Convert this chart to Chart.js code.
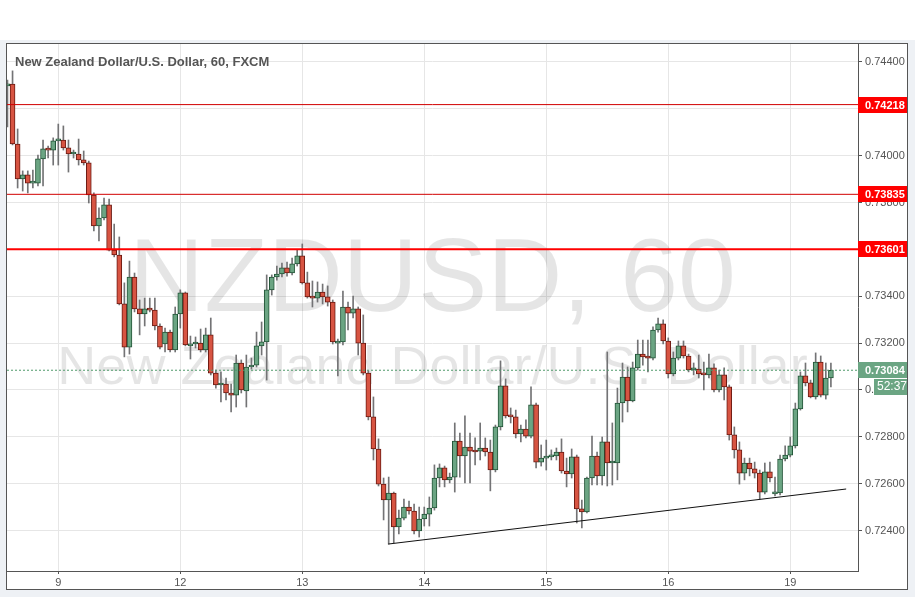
<!DOCTYPE html>
<html>
<head>
<meta charset="utf-8">
<title>NZDUSD 60</title>
<script src="https://cdn.jsdelivr.net/npm/chart.js@4.4.0/dist/chart.umd.min.js"></script>
<style>
  html, body { margin: 0; padding: 0; background: #fff; }
  #wrap { width: 915px; height: 597px; }
</style>
</head>
<body>
<div id="wrap"><canvas id="chart" width="915" height="597"></canvas></div>
<script>
// ===== DATA =====
// hourly candles, hour 0 = start of day "9"
const FIRST_HOUR = -10;

const opens = [
  0.74298, 0.74306, 0.74050, 0.73901, 0.73918, 0.73883, 0.73883, 0.73986, 0.74029, 0.74024,
  0.74063, 0.74067, 0.74033, 0.74007, 0.74007, 0.73982, 0.73969, 0.73832, 0.73700, 0.73734,
  0.73790, 0.73597, 0.73576, 0.73367, 0.73183, 0.73482, 0.73346, 0.73324, 0.73346, 0.73341,
  0.73273, 0.73196, 0.73247, 0.73171, 0.73324, 0.73414, 0.73188, 0.73196, 0.73200, 0.73171,
  0.73235, 0.73072, 0.73021, 0.73025, 0.72987, 0.72978, 0.73115, 0.72996, 0.73098, 0.73106,
  0.73188, 0.73205, 0.73427, 0.73482, 0.73495, 0.73521, 0.73499, 0.73538, 0.73572, 0.73457,
  0.73397, 0.73392, 0.73418, 0.73397, 0.73375, 0.73200, 0.73205, 0.73354, 0.73328, 0.73346,
  0.73200, 0.73072, 0.72885, 0.72748, 0.72598, 0.72530, 0.72560, 0.72415, 0.72453, 0.72500,
  0.72483, 0.72398, 0.72449, 0.72470, 0.72496, 0.72624, 0.72667, 0.72616, 0.72628, 0.72782,
  0.72718, 0.72756, 0.72739, 0.72739, 0.72752, 0.72735, 0.72658, 0.72842, 0.73017, 0.72889,
  0.72885, 0.72812, 0.72833, 0.72803, 0.72936, 0.72692, 0.72709, 0.72714, 0.72718, 0.72735,
  0.72654, 0.72641, 0.72714, 0.72492, 0.72479, 0.72624, 0.72718, 0.72633, 0.72778, 0.72688,
  0.72688, 0.72944, 0.73055, 0.72953, 0.73094, 0.73153, 0.73145, 0.73136, 0.73256, 0.73282,
  0.73209, 0.73068, 0.73136, 0.73188, 0.73145, 0.73085, 0.73089, 0.73068, 0.73064, 0.73094,
  0.73000, 0.73064, 0.73013, 0.72808, 0.72744, 0.72645, 0.72688, 0.72663, 0.72645, 0.72564,
  0.72650, 0.72556, 0.72560, 0.72705, 0.72722, 0.72761, 0.72919, 0.73060, 0.73030, 0.72970,
  0.73119, 0.72978, 0.73051
];
const highs = [
  0.74323, 0.74362, 0.74114, 0.73935, 0.73935, 0.73939, 0.74003, 0.74067, 0.74041, 0.74076,
  0.74135, 0.74127, 0.74067, 0.74024, 0.74071, 0.74020, 0.73977, 0.73841, 0.73777, 0.73819,
  0.73815, 0.73708, 0.73653, 0.73457, 0.73550, 0.73499, 0.73384, 0.73392, 0.73392, 0.73392,
  0.73282, 0.73264, 0.73256, 0.73354, 0.73427, 0.73418, 0.73230, 0.73226, 0.73260, 0.73264,
  0.73307, 0.73085, 0.73077, 0.73051, 0.73025, 0.73149, 0.73128, 0.73149, 0.73136, 0.73247,
  0.73290, 0.73491, 0.73491, 0.73529, 0.73542, 0.73546, 0.73563, 0.73597, 0.73623, 0.73503,
  0.73465, 0.73461, 0.73452, 0.73444, 0.73384, 0.73217, 0.73422, 0.73375, 0.73401, 0.73354,
  0.73320, 0.73081, 0.72970, 0.72791, 0.72624, 0.72628, 0.72564, 0.72487, 0.72534, 0.72526,
  0.72513, 0.72500, 0.72500, 0.72543, 0.72680, 0.72684, 0.72675, 0.72645, 0.72859, 0.72816,
  0.72889, 0.72816, 0.72795, 0.72859, 0.72795, 0.72786, 0.72850, 0.73124, 0.73047, 0.72923,
  0.72914, 0.72850, 0.72872, 0.73013, 0.72944, 0.72765, 0.72786, 0.72744, 0.72752, 0.72791,
  0.72709, 0.72748, 0.72722, 0.72530, 0.72628, 0.72803, 0.72735, 0.72799, 0.73162, 0.72859,
  0.73008, 0.73115, 0.73098, 0.73119, 0.73213, 0.73213, 0.73213, 0.73269, 0.73307, 0.73299,
  0.73222, 0.73162, 0.73209, 0.73209, 0.73153, 0.73115, 0.73149, 0.73119, 0.73153, 0.73111,
  0.73085, 0.73094, 0.73021, 0.72842, 0.72778, 0.72709, 0.72709, 0.72692, 0.72658, 0.72688,
  0.72692, 0.72628, 0.72722, 0.72761, 0.72799, 0.72944, 0.73077, 0.73115, 0.73042, 0.73158,
  0.73145, 0.73115, 0.73115
];
const lows = [
  0.74123, 0.74046, 0.73862, 0.73849, 0.73841, 0.73862, 0.73871, 0.73871, 0.73990, 0.73960,
  0.73960, 0.74024, 0.73930, 0.73990, 0.73960, 0.73960, 0.73798, 0.73679, 0.73636, 0.73726,
  0.73593, 0.73568, 0.73363, 0.73141, 0.73153, 0.73333, 0.73235, 0.73273, 0.73333, 0.73256,
  0.73175, 0.73162, 0.73162, 0.73162, 0.73264, 0.73188, 0.73132, 0.73179, 0.73162, 0.73162,
  0.73064, 0.73008, 0.72949, 0.72957, 0.72906, 0.72927, 0.72987, 0.72927, 0.73089, 0.73098,
  0.73149, 0.73042, 0.73405, 0.73469, 0.73482, 0.73486, 0.73491, 0.73529, 0.73452, 0.73392,
  0.73354, 0.73375, 0.73367, 0.73358, 0.73196, 0.73060, 0.73192, 0.73256, 0.73307, 0.73149,
  0.73064, 0.72872, 0.72701, 0.72590, 0.72445, 0.72342, 0.72347, 0.72385, 0.72445, 0.72470,
  0.72385, 0.72372, 0.72419, 0.72419, 0.72487, 0.72586, 0.72586, 0.72603, 0.72564, 0.72628,
  0.72603, 0.72603, 0.72680, 0.72701, 0.72718, 0.72569, 0.72650, 0.72829, 0.72880, 0.72859,
  0.72795, 0.72778, 0.72795, 0.72795, 0.72667, 0.72675, 0.72658, 0.72701, 0.72701, 0.72645,
  0.72586, 0.72624, 0.72432, 0.72411, 0.72475, 0.72594, 0.72594, 0.72594, 0.72590, 0.72594,
  0.72616, 0.72863, 0.72906, 0.72949, 0.73085, 0.73106, 0.73077, 0.73128, 0.73247, 0.73196,
  0.73051, 0.73060, 0.73128, 0.73136, 0.73077, 0.73064, 0.73051, 0.73000, 0.73051, 0.72991,
  0.72991, 0.72957, 0.72786, 0.72709, 0.72598, 0.72616, 0.72633, 0.72624, 0.72534, 0.72556,
  0.72607, 0.72547, 0.72552, 0.72697, 0.72714, 0.72752, 0.72914, 0.73017, 0.72966, 0.72961,
  0.72970, 0.72961, 0.73013
];
const closes = [
  0.74306, 0.74050, 0.73901, 0.73918, 0.73883, 0.73888, 0.73986, 0.74029, 0.74024, 0.74063,
  0.74067, 0.74033, 0.74007, 0.74007, 0.73982, 0.73969, 0.73832, 0.73700, 0.73734, 0.73790,
  0.73597, 0.73576, 0.73367, 0.73183, 0.73482, 0.73346, 0.73324, 0.73346, 0.73341, 0.73273,
  0.73183, 0.73247, 0.73171, 0.73324, 0.73414, 0.73192, 0.73196, 0.73200, 0.73171, 0.73235,
  0.73072, 0.73021, 0.73025, 0.72987, 0.72978, 0.73115, 0.73000, 0.73098, 0.73106, 0.73188,
  0.73205, 0.73427, 0.73482, 0.73495, 0.73521, 0.73499, 0.73538, 0.73572, 0.73457, 0.73397,
  0.73392, 0.73418, 0.73397, 0.73375, 0.73205, 0.73205, 0.73354, 0.73328, 0.73346, 0.73200,
  0.73072, 0.72885, 0.72748, 0.72598, 0.72530, 0.72560, 0.72415, 0.72453, 0.72500, 0.72483,
  0.72398, 0.72449, 0.72470, 0.72496, 0.72624, 0.72667, 0.72616, 0.72628, 0.72782, 0.72718,
  0.72756, 0.72739, 0.72735, 0.72752, 0.72735, 0.72658, 0.72842, 0.73017, 0.72889, 0.72885,
  0.72812, 0.72833, 0.72803, 0.72936, 0.72692, 0.72709, 0.72714, 0.72722, 0.72735, 0.72654,
  0.72641, 0.72714, 0.72492, 0.72479, 0.72624, 0.72718, 0.72633, 0.72778, 0.72688, 0.72692,
  0.72944, 0.73055, 0.72953, 0.73094, 0.73153, 0.73141, 0.73136, 0.73256, 0.73282, 0.73209,
  0.73068, 0.73136, 0.73188, 0.73145, 0.73085, 0.73094, 0.73068, 0.73064, 0.73094, 0.73000,
  0.73064, 0.73013, 0.72808, 0.72744, 0.72645, 0.72688, 0.72663, 0.72645, 0.72564, 0.72650,
  0.72624, 0.72564, 0.72705, 0.72722, 0.72761, 0.72919, 0.73060, 0.73030, 0.72970, 0.73119,
  0.72978, 0.73051, 0.73084
];

// time axis: day labels at hour offsets
const dayHours  = [0, 24, 48, 72, 96, 120, 144];
const dayLabels = ['9', '12', '13', '14', '15', '16', '19'];

// price axis ticks
const priceTicks = [0.724, 0.726, 0.728, 0.730, 0.732, 0.734, 0.736, 0.738, 0.740, 0.742, 0.744];

// horizontal levels drawn on the chart
const levelPrices = [0.74218, 0.73835, 0.73601];
const levelWidths = [1, 1, 2];
const lastPrice = 0.73084;
const countdown = '52:37';

// support trend line (hour, price)
const trendHours  = [64.9, 155.0];
const trendPrices = [0.72342, 0.72577];

// visible range
const X_MIN = -10.09, X_MAX = 157.33;
const Y_MIN = 0.72227, Y_MAX = 0.74481;

// ===== STYLE =====
const UP_FILL = '#6ba583', UP_LINE = '#225437';
const DN_FILL = '#d75442', DN_LINE = '#6b1a12';
const WICK = '#737375';
const AXIS = '#555555';
const GRID = '#e6e6e6';

Chart.defaults.font = { family: "'Liberation Sans', Arial, sans-serif", size: 11 };
Chart.defaults.color = AXIS;

const isUp = i => closes[i] >= opens[i];

// ===== PLUGINS =====
const framePlugin = {
  id: 'frame',
  beforeDraw(chart) {
    const { ctx, width, height } = chart;
    ctx.save();
    ctx.fillStyle = '#eef1f5';
    ctx.fillRect(0, 0, width, height);
    ctx.fillStyle = '#ffffff';
    ctx.fillRect(0, 0, width, 40);
    ctx.fillRect(6, 43, 902, 547);
    ctx.restore();
  },
  beforeDatasetsDraw(chart) {
    // symbol watermark
    const { ctx, chartArea } = chart;
    const cx = (chartArea.left + chartArea.right) / 2;
    ctx.save();
    ctx.fillStyle = 'rgba(0,0,0,0.1)';
    ctx.textAlign = 'center';
    ctx.textBaseline = 'alphabetic';
    ctx.font = "104px 'Liberation Sans', Arial, sans-serif";
    ctx.fillText('NZDUSD, 60', cx, 311);
    ctx.font = "54px 'Liberation Sans', Arial, sans-serif";
    ctx.fillText('New Zealand Dollar/U.S. Dollar', cx, 384);
    ctx.restore();
  },
  afterDraw(chart) {
    const { ctx } = chart;
    const y = chart.scales.y;
    ctx.save();

    // title
    ctx.fillStyle = '#555555';
    ctx.font = "bold 13px 'Liberation Sans', Arial, sans-serif";
    ctx.textAlign = 'left';
    ctx.textBaseline = 'alphabetic';
    ctx.fillText('New Zealand Dollar/U.S. Dollar, 60, FXCM', 15, 66);

    // price tags on the axis
    ctx.font = "bold 11px 'Liberation Sans', Arial, sans-serif";
    ctx.textBaseline = 'middle';
    const tag = (price, color) => {
      const py = Math.round(y.getPixelForValue(price));
      ctx.fillStyle = color;
      ctx.fillRect(858, py - 8, 49, 16);
      ctx.fillStyle = '#ffffff';
      ctx.fillText(price.toFixed(5), 865, py + 1);
      return py;
    };
    levelPrices.forEach(p => tag(p, '#ff0000'));
    const ly = tag(lastPrice, '#6ba583');

    ctx.fillStyle = '#6ba583';
    ctx.fillRect(874, ly + 9, 33, 16);
    ctx.fillStyle = '#ffffff';
    ctx.font = "12px 'Liberation Sans', Arial, sans-serif";
    ctx.fillText(countdown, 877, ly + 17);

    // panel frame
    ctx.strokeStyle = '#555555';
    ctx.lineWidth = 1;
    ctx.strokeRect(6.5, 43.5, 901, 546);
    ctx.restore();
  }
};

// ===== CHART =====
const xy = (i, v) => ({ x: FIRST_HOUR + i, y: v });

const datasets = [
  {
    type: 'bar',
    label: 'body',
    order: 1,
    data: opens.map((o, i) => xy(i, [o, closes[i]])),
    backgroundColor: ctx => isUp(ctx.dataIndex) ? UP_FILL : DN_FILL,
    borderColor: ctx => isUp(ctx.dataIndex) ? UP_LINE : DN_LINE,
    borderWidth: 1,
    borderSkipped: false,
    barThickness: 5,
    minBarLength: 2,
    grouped: false,
  },
  {
    type: 'bar',
    label: 'wick',
    order: 2,
    data: lows.map((l, i) => xy(i, [l, highs[i]])),
    backgroundColor: WICK,
    borderWidth: 0,
    barThickness: 1,
    grouped: false,
  },
  {
    type: 'line',
    label: 'last',
    order: 0,
    data: [{ x: X_MIN, y: lastPrice }, { x: X_MAX, y: lastPrice }],
    borderColor: '#4f9a6b',
    borderWidth: 1,
    borderDash: [2, 2],
    pointRadius: 0,
  },
  {
    type: 'line',
    label: 'trend',
    order: 0,
    data: trendHours.map((h, i) => ({ x: h, y: trendPrices[i] })),
    borderColor: '#111111',
    borderWidth: 1,
    pointRadius: 0,
  },
  ...levelPrices.map((p, i) => ({
    type: 'line',
    label: 'level ' + p,
    order: 0,
    data: [{ x: X_MIN, y: p }, { x: X_MAX, y: p }],
    borderColor: i === 2 ? '#ff0000' : '#d10000',
    borderWidth: levelWidths[i],
    pointRadius: 0,
  })),
];

new Chart(document.getElementById('chart').getContext('2d'), {
  type: 'bar',
  data: { datasets },
  options: {
    responsive: false,
    animation: false,
    layout: { padding: { left: 7, top: 43, right: 7, bottom: 7 } },
    plugins: { legend: { display: false }, tooltip: { enabled: false } },
    scales: {
      x: {
        type: 'linear',
        offset: false,
        min: X_MIN,
        max: X_MAX,
        afterFit: s => { s.height = 19; },
        afterBuildTicks: s => { s.ticks = dayHours.map(v => ({ value: v })); },
        ticks: {
          callback: v => dayLabels[dayHours.indexOf(v)],
          padding: 2,
          maxRotation: 0,
          autoSkip: false,
          color: AXIS,
        },
        grid: { offset: false, color: GRID, tickColor: AXIS, tickLength: 3 },
        border: { color: AXIS },
      },
      y: {
        type: 'linear',
        position: 'right',
        min: Y_MIN,
        max: Y_MAX,
        afterFit: s => { s.width = 50; },
        afterBuildTicks: s => { s.ticks = priceTicks.map(v => ({ value: v })); },
        ticks: {
          callback: v => v.toFixed(5),
          padding: 3,
          color: AXIS,
        },
        grid: { color: GRID, tickColor: AXIS, tickLength: 4 },
        border: { color: AXIS },
      },
    },
  },
  plugins: [framePlugin],
});
</script>
</body>
</html>
